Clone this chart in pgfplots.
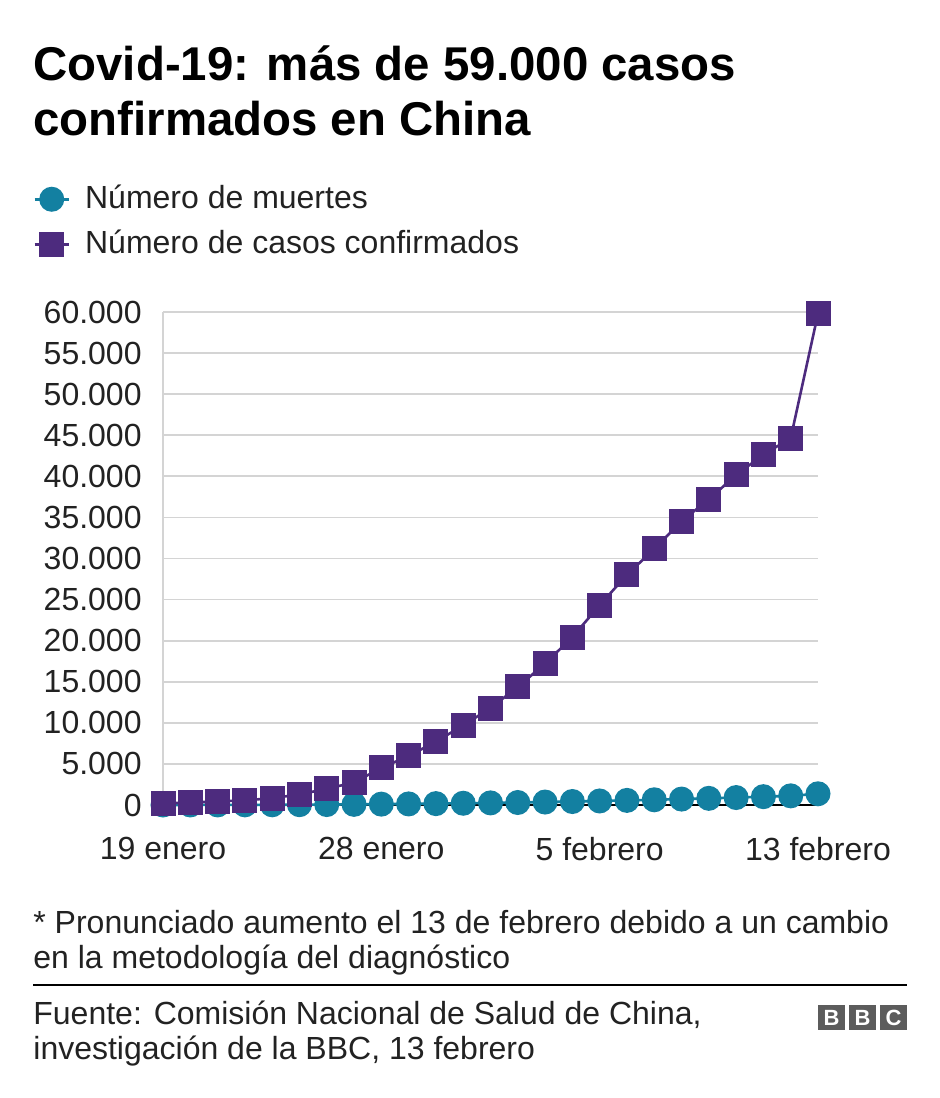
\documentclass[border=0pt]{standalone}
\usepackage{pgfplots}
\usepackage{pgfplotstable}
\pgfplotsset{compat=1.18}
\usepackage{fontspec}
\setmainfont{Liberation Sans}
\definecolor{deathc}{HTML}{1380A1}
\definecolor{casec}{HTML}{4D2B7E}
\definecolor{txt}{HTML}{222222}
\definecolor{gridc}{HTML}{D4D4D4}
\definecolor{bbcgray}{HTML}{5C5C5C}

\pgfplotstableread{
x deaths cases
0 3 198
1 6 291
2 9 440
3 17 571
4 25 830
5 41 1287
6 56 1975
7 80 2744
8 106 4515
9 132 5974
10 170 7711
11 213 9692
12 259 11791
13 304 14380
14 361 17205
15 425 20438
16 490 24324
17 563 28018
18 636 31161
19 722 34546
20 811 37198
21 908 40171
22 1016 42638
23 1113 44653
24 1367 59804
}\data

\begin{document}
\begin{tikzpicture}
\useasboundingbox (0,0) rectangle (470pt,-549pt);
\node[anchor=base west, inner sep=0pt, font=\fontsize{23.7}{28}\selectfont\bfseries, text=black] at (16.5pt,-40pt) {Covid-19: más de 59.000 casos};
\node[anchor=base west, inner sep=0pt, font=\fontsize{23.7}{28}\selectfont\bfseries, text=black] at (16.5pt,-67.5pt) {confirmados en China};

\begin{axis}[
  at={(81.5pt,-402.5pt)}, anchor=south west,
  scale only axis, width=327.5pt, height=246.5pt,
  xmin=0, xmax=24, ymin=0, ymax=60000,
  xtick={0,8,16,24},
  xticklabels={19 enero, 28 enero, 5 febrero, 13 febrero},
  ytick={0,5000,...,60000},
  ymajorgrids, grid style={gridc, line width=0.9pt},
  axis x line*=bottom, axis y line*=left,
  x axis line style={-, black, line width=1.2pt},
  y axis line style={-, gridc, line width=0.9pt},
  major tick length=0pt, tick style={draw=none},
  /pgf/number format/1000 sep={.},
  /pgf/number format/assume math mode=true,
  scaled y ticks=false,
  ticklabel style={font=\fontsize{16}{19}\selectfont, text=txt},
  yticklabel style={anchor=east, inner sep=0pt, xshift=-10.5pt},
  xticklabel style={anchor=north, inner sep=0pt, yshift=-16pt},
  clip=false,
  legend style={draw=none, fill=none, at={(axis description cs:-0.1985,1.26)}, anchor=north west,
    inner sep=0pt, row sep=7.5pt, font=\fontsize{16}{19}\selectfont, text=txt,
    nodes={text height=12pt, text depth=3pt, inner sep=0pt},
    /tikz/every odd column/.style={column sep=7.5pt}},
  legend cell align=left,
]
\addplot[color=deathc, line width=1.3pt, mark=*, mark size=5.6pt, mark options={fill=deathc, draw=none}] table[x=x, y=deaths] {\data};
\addlegendentry{Número de muertes}
\addplot[color=casec, line width=1.3pt, mark=square*, mark size=5.6pt, mark options={fill=casec, draw=none}] table[x=x, y=cases] {\data};
\addlegendentry{Número de casos confirmados}
\end{axis}

\node[anchor=base west, inner sep=0pt, font=\fontsize{16}{19}\selectfont, text=txt] at (16.5pt,-466.5pt) {* Pronunciado aumento el 13 de febrero debido a un cambio};
\node[anchor=base west, inner sep=0pt, font=\fontsize{16}{19}\selectfont, text=txt] at (16.5pt,-484pt) {en la metodología del diagnóstico};
\draw[line width=1pt, black] (16.5pt,-492.5pt) -- (453.5pt,-492.5pt);
\node[anchor=base west, inner sep=0pt, font=\fontsize{16}{19}\selectfont, text=txt] at (16.5pt,-512pt) {Fuente: Comisión Nacional de Salud de China,};
\node[anchor=base west, inner sep=0pt, font=\fontsize{16}{19}\selectfont, text=txt] at (16.5pt,-529.5pt) {investigación de la BBC, 13 febrero};
\foreach \xa/\l in {409/B, 424.5/B, 440/C}{
  \fill[bbcgray] (\xa pt,-502.5pt) rectangle ++(13.5pt,-12.5pt);
  \node[text=white, font=\fontsize{11}{12}\selectfont\bfseries, inner sep=0pt] at (\xa pt+6.75pt,-508.75pt) {\l};
}
\end{tikzpicture}
\end{document}
